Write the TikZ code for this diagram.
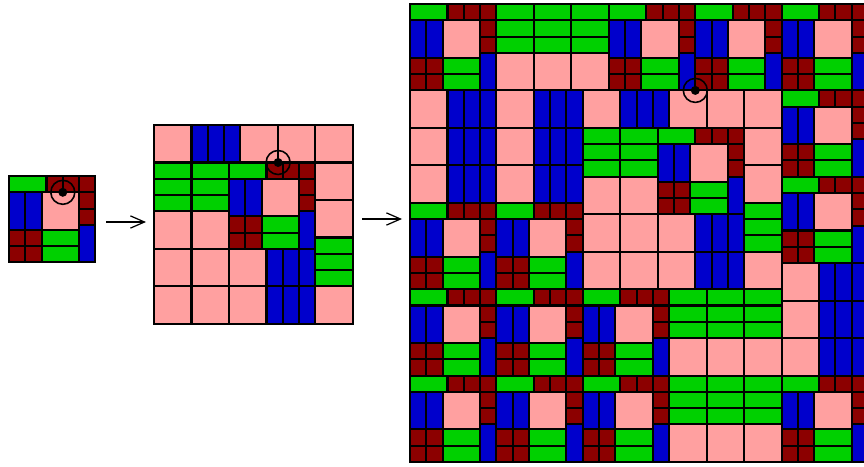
\documentclass[tikz,border=0pt]{standalone}
\usetikzlibrary{positioning}
\usetikzlibrary{arrows.meta}
\definecolor{tpink}{RGB}{255,160,160}
\definecolor{tblue}{RGB}{0,0,204}
\definecolor{tgreen}{RGB}{0,208,0}
\definecolor{tred}{RGB}{140,0,0}
\tikzset{
	tileedge/.style={draw=black, line width=1.15pt},
	ptile/.style={tileedge, fill=tpink},
	btile/.style={tileedge, fill=tblue},
	gtile/.style={tileedge, fill=tgreen},
	rtile/.style={tileedge, fill=tred},
	fixring/.style={draw=black, line width=0.9pt},
	fixdot/.style={fill=black},
	subst/.style={-{Straight Barb[length=8pt, width=7pt]}, line width=0.7pt}
}
% base sizes (px) and inflation factor
\def\ta{37.5}
\def\td{16.285}
\def\lam{2.30278}
% child tile #1 of level #2 at (#3,#4)
\newcommand\placetile[4]{\begin{scope}[shift={(#3,#4)}]#1{#2}\end{scope}}
\newcommand\tileP[1]{%
	\ifnum#1=0 \path[ptile] (0,0) rectangle (\ta,\ta);%
	\else\begingroup
		\pgfmathtruncatemacro\lv{#1-1}%
		\pgfmathsetmacro\ua{\ta*\lam^\lv}%
		\pgfmathsetmacro\ud{\td*\lam^\lv}%
		\placetile\tileG{\lv}{0}{0}%
		\placetile\tileR{\lv}{\ua}{0}%
		\placetile\tileR{\lv}{\ua+\ud}{0}%
		\placetile\tileR{\lv}{\ua+2*\ud}{0}%
		\placetile\tileB{\lv}{0}{\ud}%
		\placetile\tileB{\lv}{\ud}{\ud}%
		\placetile\tileP{\lv}{2*\ud}{\ud}%
		\placetile\tileR{\lv}{2*\ud+\ua}{\ud}%
		\placetile\tileR{\lv}{2*\ud+\ua}{2*\ud}%
		\placetile\tileB{\lv}{2*\ud+\ua}{3*\ud}%
		\placetile\tileR{\lv}{0}{\ud+\ua}%
		\placetile\tileR{\lv}{\ud}{\ud+\ua}%
		\placetile\tileR{\lv}{0}{2*\ud+\ua}%
		\placetile\tileR{\lv}{\ud}{2*\ud+\ua}%
		\placetile\tileG{\lv}{2*\ud}{\ud+\ua}%
		\placetile\tileG{\lv}{2*\ud}{2*\ud+\ua}%
	\endgroup\fi}
\newcommand\tileB[1]{%
	\ifnum#1=0 \path[btile] (0,0) rectangle (\td,\ta);%
	\else\begingroup
		\pgfmathtruncatemacro\lv{#1-1}%
		\pgfmathsetmacro\ua{\ta*\lam^\lv}%
		\pgfmathsetmacro\ud{\td*\lam^\lv}%
		\placetile\tileG{\lv}{0}{0}%
		\placetile\tileG{\lv}{0}{\ud}%
		\placetile\tileG{\lv}{0}{2*\ud}%
		\placetile\tileP{\lv}{0}{3*\ud}%
	\endgroup\fi}
\newcommand\tileG[1]{%
	\ifnum#1=0 \path[gtile] (0,0) rectangle (\ta,\td);%
	\else\begingroup
		\pgfmathtruncatemacro\lv{#1-1}%
		\pgfmathsetmacro\ua{\ta*\lam^\lv}%
		\pgfmathsetmacro\ud{\td*\lam^\lv}%
		\placetile\tileP{\lv}{0}{0}%
		\placetile\tileB{\lv}{\ua}{0}%
		\placetile\tileB{\lv}{\ua+\ud}{0}%
		\placetile\tileB{\lv}{\ua+2*\ud}{0}%
	\endgroup\fi}
\newcommand\tileR[1]{%
	\ifnum#1=0 \path[rtile] (0,0) rectangle (\td,\td);%
	\else\begingroup
		\pgfmathtruncatemacro\lv{#1-1}%
		\placetile\tileP{\lv}{0}{0}%
	\endgroup\fi}

\begin{document}
\begin{tikzpicture}[x=0.02cm, y=-0.02cm]
	\useasboundingbox (0,0) rectangle (864,466);
	
	% the three patches
	\placetile\tileP{1}{9}{176}
	\placetile\tileP{2}{154}{125}
	\begin{scope}
		\clip (0,0) rectangle (864,466);
		\placetile\tileP{3}{410}{4}
	\end{scope}
	
	% marked points
	\coordinate (fix1) at (62.8,192.3);
	\coordinate (fix2) at (278.1,162.5);
	\coordinate (fix3) at (695.3,90.4);
	\foreach \f in {fix1,fix2,fix3}{
		\draw[fixring] (\f) circle (12);
		\fill[fixdot] (\f) circle (4.5);
	}
	
	% substitution arrows
	\coordinate (s1) at (106,222);
	\coordinate (t1) at (146,222);
	\coordinate (s2) at (362,219);
	\coordinate (t2) at (402,219);
	\draw[subst] (s1) -- (t1);
	\draw[subst] (s2) -- (t2);
\end{tikzpicture}
\end{document}
